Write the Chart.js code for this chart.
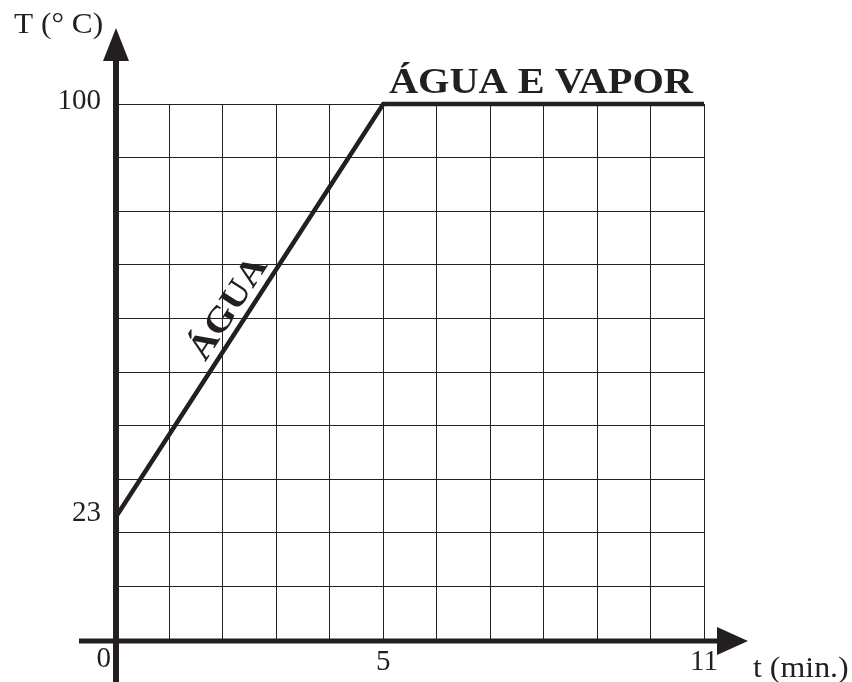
<!DOCTYPE html>
<html lang="pt">
<head>
    <meta charset="UTF-8">
    <title>Água e vapor</title>
    <script src="https://cdn.jsdelivr.net/npm/chart.js"></script>
    <style>
        body { margin: 0; background: #ffffff; }
        #wrap { width: 852px; height: 682px; position: relative; }
    </style>
</head>
<body>
    <div id="wrap"><canvas id="heatChart"></canvas></div>

    <script>
        // tempo (min) e temperatura (°C)
        const times = [0, 5, 11];
        const temps = [23, 100, 100];
        const xTickLabels = [0, 5, 11];
        const yTickLabels = [23, 100];

        const ink = '#231f20';
        const serif = '"Liberation Serif", "Times New Roman", serif';

        // text a bit wider than the stock font, like the printed figure
        function wideText(ctx, text, x, y, stretch) {
            ctx.save();
            ctx.translate(x, y);
            ctx.scale(stretch, 1);
            ctx.fillText(text, 0, 0);
            ctx.restore();
        }

        // axes with arrows, tick labels and annotations
        const sketchPlugin = {
            id: 'sketch',
            afterDraw(chart) {
                const ctx = chart.ctx;
                const xs = chart.scales.x;
                const ys = chart.scales.y;
                const x0 = xs.getPixelForValue(0);
                const y0 = ys.getPixelForValue(0);

                ctx.save();
                ctx.fillStyle = ink;
                ctx.strokeStyle = ink;

                // vertical axis
                ctx.lineWidth = 6;
                ctx.beginPath();
                ctx.moveTo(x0, 682);
                ctx.lineTo(x0, 50);
                ctx.stroke();
                ctx.beginPath();
                ctx.moveTo(x0, 28);
                ctx.lineTo(x0 - 13, 61);
                ctx.lineTo(x0 + 13, 61);
                ctx.closePath();
                ctx.fill();

                // horizontal axis
                ctx.lineWidth = 5;
                ctx.beginPath();
                ctx.moveTo(79, y0 + 1);
                ctx.lineTo(725, y0 + 1);
                ctx.stroke();
                ctx.beginPath();
                ctx.moveTo(748, y0 + 1);
                ctx.lineTo(717, y0 - 13);
                ctx.lineTo(717, y0 + 15);
                ctx.closePath();
                ctx.fill();

                // tick labels
                ctx.font = '29px ' + serif;
                ctx.textBaseline = 'middle';
                xTickLabels.forEach(v => {
                    const px = xs.getPixelForValue(v);
                    if (v === 0) {
                        ctx.textAlign = 'right';
                        ctx.fillText(String(v), px - 5, y0 + 19);
                    } else {
                        ctx.textAlign = 'center';
                        ctx.fillText(String(v), px, y0 + 22);
                    }
                });
                ctx.textAlign = 'right';
                yTickLabels.forEach(v => {
                    ctx.fillText(String(v), x0 - 15, ys.getPixelForValue(v) - 3);
                });

                // axis titles
                ctx.textAlign = 'left';
                ctx.textBaseline = 'alphabetic';
                wideText(ctx, 'T (° C)', 14, 33, 1.08);
                wideText(ctx, 't (min.)', 753, 677, 1.1);

                // phase labels
                ctx.font = 'bold 36px ' + serif;
                wideText(ctx, 'ÁGUA E VAPOR', 389, 93, 1.12);

                const ax = xs.getPixelForValue(times[0]), ay = ys.getPixelForValue(temps[0]);
                const bx = xs.getPixelForValue(times[1]), by = ys.getPixelForValue(temps[1]);
                const ang = Math.atan2(by - ay, bx - ax);
                const mx = ax + (bx - ax) * 0.48, my = ay + (by - ay) * 0.48;
                ctx.translate(mx, my);
                ctx.rotate(ang);
                ctx.textAlign = 'center';
                ctx.font = 'bold 35px ' + serif;
                wideText(ctx, 'ÁGUA', 0, -9, 1.12);
                ctx.restore();
            }
        };

        new Chart(document.getElementById('heatChart'), {
            type: 'line',
            data: {
                datasets: [{
                    data: times.map((t, i) => ({ x: t, y: temps[i] })),
                    borderColor: ink,
                    borderWidth: 4.5,
                    pointRadius: 0,
                    tension: 0,
                    fill: false,
                    clip: 10
                }]
            },
            options: {
                responsive: true,
                maintainAspectRatio: false,
                animation: false,
                layout: { padding: { left: 116, right: 148, top: 104, bottom: 42 } },
                plugins: {
                    legend: { display: false },
                    tooltip: { enabled: false }
                },
                scales: {
                    x: {
                        type: 'linear',
                        min: 0,
                        max: 11,
                        ticks: { stepSize: 1, display: false },
                        grid: { color: ink, lineWidth: 1, drawTicks: false },
                        border: { display: false }
                    },
                    y: {
                        min: 0,
                        max: 100,
                        ticks: { stepSize: 10, display: false },
                        grid: { color: ink, lineWidth: 1, drawTicks: false },
                        border: { display: false }
                    }
                }
            },
            plugins: [sketchPlugin]
        });
    </script>
</body>
</html>
